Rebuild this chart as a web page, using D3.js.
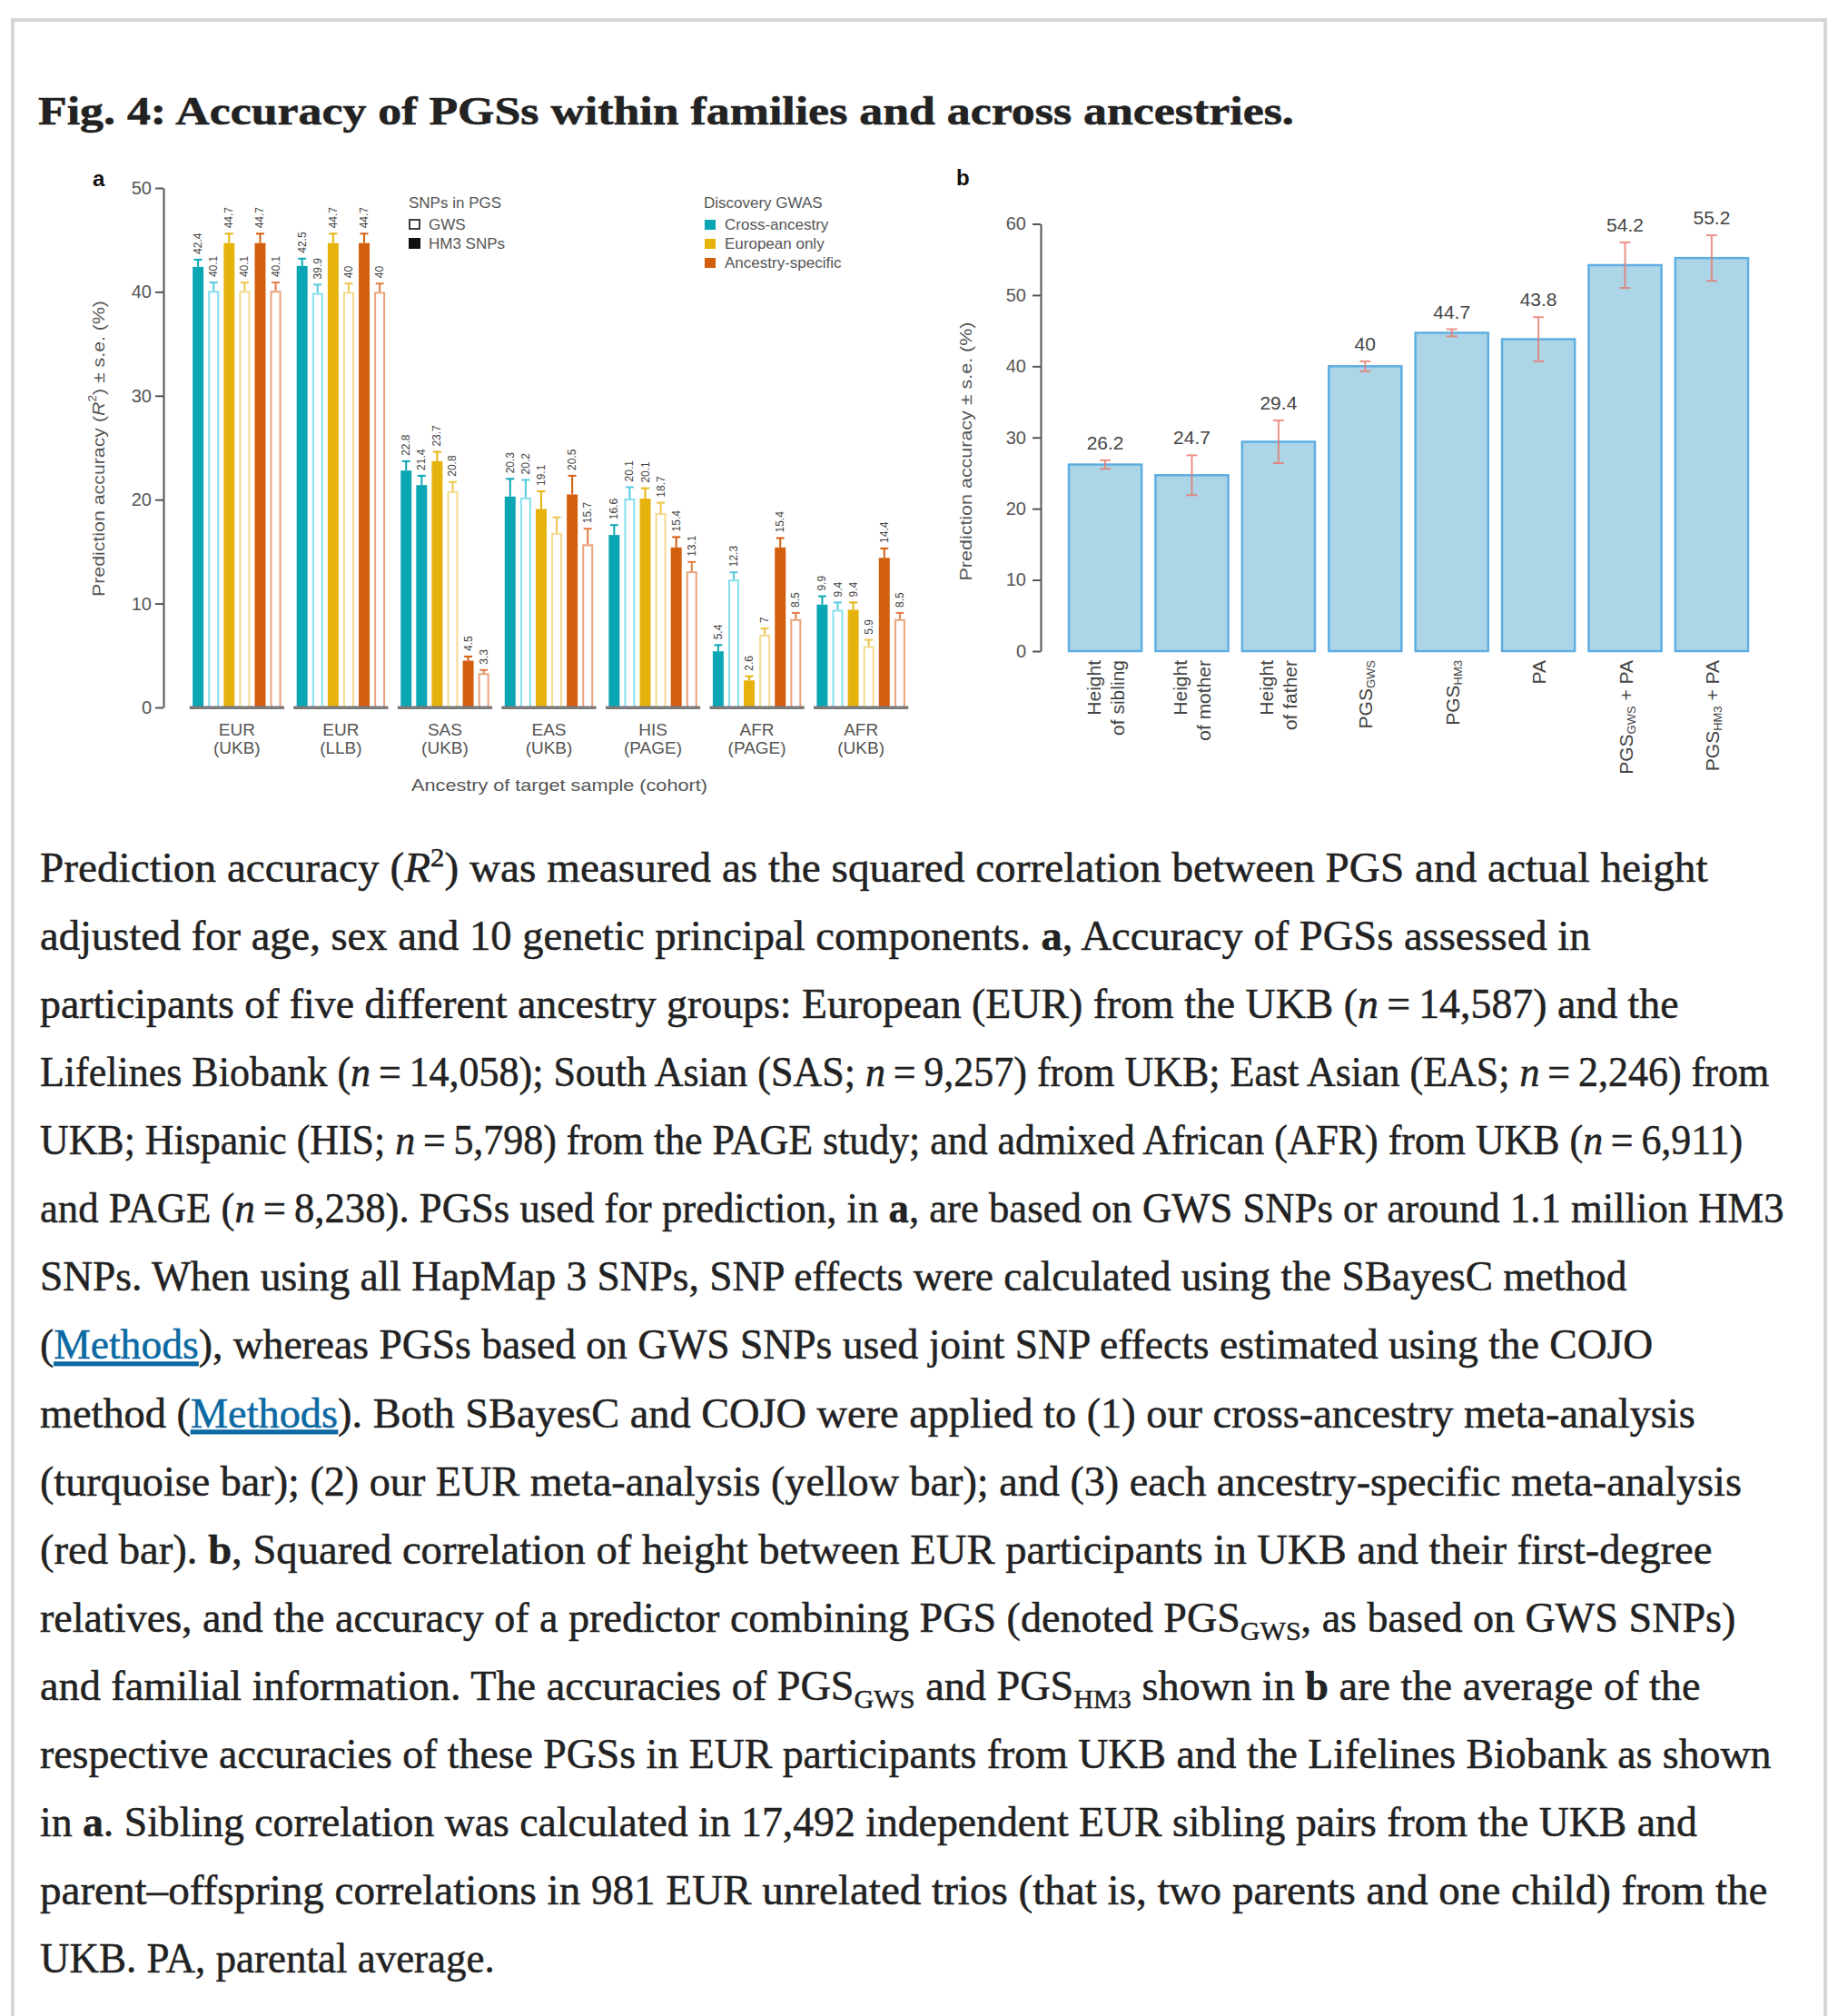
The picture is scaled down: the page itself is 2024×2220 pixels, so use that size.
<!DOCTYPE html>
<html><head><meta charset="utf-8">
<script src="https://cdn.jsdelivr.net/npm/d3@7"></script>
<style>html,body{margin:0;padding:0;background:#fff}</style>
</head><body>
<svg id="c" width="2024" height="2220" xmlns="http://www.w3.org/2000/svg"></svg>
<script>
// ---------------- DATA ----------------
const titleText = "Fig. 4: Accuracy of PGSs within families and across ancestries.";

// Panel a
const groups = ["EUR (UKB)", "EUR (LLB)", "SAS (UKB)", "EAS (UKB)", "HIS (PAGE)", "AFR (PAGE)", "AFR (UKB)"];
const seriesKeys = ["crossHM3", "crossGWS", "eurHM3", "eurGWS", "ancHM3", "ancGWS"];
const crossHM3 = [42.4, 42.5, 22.8, 20.3, 16.6, 5.4, 9.9];
const crossGWS = [40.1, 39.9, 21.4, 20.2, 20.1, 12.3, 9.4];
const eurHM3   = [44.7, 44.7, 23.7, 19.1, 20.1, 2.6, 9.4];
const eurGWS   = [40.1, 40, 20.8, 16.8, 18.7, 7, 5.9];
const ancHM3   = [44.7, 44.7, 4.5, 20.5, 15.4, 15.4, 14.4];
const ancGWS   = [40.1, 40, 3.3, 15.7, 13.1, 8.5, 8.5];
const crossHM3SE = [0.7, 0.7, 0.9, 1.7, 0.95, 0.6, 0.8];
const crossGWSSE = [0.8, 0.8, 0.9, 1.7, 1.1, 0.7, 0.7];
const eurHM3SE   = [0.9, 0.9, 0.9, 1.7, 1.0, 0.4, 0.7];
const eurGWSSE   = [0.8, 0.8, 0.9, 1.5, 1.0, 0.6, 0.6];
const ancHM3SE   = [0.9, 0.9, 0.4, 1.8, 1.0, 0.9, 0.9];
const ancGWSSE   = [0.8, 0.8, 0.3, 1.5, 0.9, 0.6, 0.6];
const yTicksA = [0, 10, 20, 30, 40, 50];
const snpLegend = ["GWS", "HM3 SNPs"];
const discoveryLegend = ["Cross-ancestry", "European only", "Ancestry-specific"];

// Panel b
const famLabels = [["Height", "of sibling"], ["Height", "of mother"], ["Height", "of father"],
  ["PGS_GWS"], ["PGS_HM3"], ["PA"], ["PGS_GWS + PA"], ["PGS_HM3 + PA"]];
const famValues = [26.2, 24.7, 29.4, 40, 44.7, 43.8, 54.2, 55.2];
const famSE = [0.6, 2.8, 3.0, 0.7, 0.5, 3.1, 3.2, 3.2];
const yTicksB = [0, 10, 20, 30, 40, 50, 60];

// Caption (segments: [text, style])
const EQ = "\u2009=\u2009";
const caption = [
 [["Prediction accuracy ("],["R","i"],["2","sup"],[") was measured as the squared correlation between PGS and actual height"]],
 [["adjusted for age, sex and 10 genetic principal components. "],["a","b"],[", Accuracy of PGSs assessed in"]],
 [["participants of five different ancestry groups: European (EUR) from the UKB ("],["n","i"],[EQ+"14,587) and the"]],
 [["Lifelines Biobank ("],["n","i"],[EQ+"14,058); South Asian (SAS; "],["n","i"],[EQ+"9,257) from UKB; East Asian (EAS; "],["n","i"],[EQ+"2,246) from"]],
 [["UKB; Hispanic (HIS; "],["n","i"],[EQ+"5,798) from the PAGE study; and admixed African (AFR) from UKB ("],["n","i"],[EQ+"6,911)"]],
 [["and PAGE ("],["n","i"],[EQ+"8,238). PGSs used for prediction, in "],["a","b"],[", are based on GWS SNPs or around 1.1 million HM3"]],
 [["SNPs. When using all HapMap 3 SNPs, SNP effects were calculated using the SBayesC method"]],
 [["("],["Methods","link"],["), whereas PGSs based on GWS SNPs used joint SNP effects estimated using the COJO"]],
 [["method ("],["Methods","link"],["). Both SBayesC and COJO were applied to (1) our cross-ancestry meta-analysis"]],
 [["(turquoise bar); (2) our EUR meta-analysis (yellow bar); and (3) each ancestry-specific meta-analysis"]],
 [["(red bar). "],["b","b"],[", Squared correlation of height between EUR participants in UKB and their first-degree"]],
 [["relatives, and the accuracy of a predictor combining PGS (denoted PGS"],["GWS","sub"],[", as based on GWS SNPs)"]],
 [["and familial information. The accuracies of PGS"],["GWS","sub"],[" and PGS"],["HM3","sub"],[" shown in "],["b","b"],[" are the average of the"]],
 [["respective accuracies of these PGSs in EUR participants from UKB and the Lifelines Biobank as shown"]],
 [["in "],["a","b"],[". Sibling correlation was calculated in 17,492 independent EUR sibling pairs from the UKB and"]],
 [["parent\u2013offspring correlations in 981 EUR unrelated trios (that is, two parents and one child) from the"]],
 [["UKB. PA, parental average."]]
];

// ---------------- STYLE / LAYOUT ----------------
const values = {crossHM3, crossGWS, eurHM3, eurGWS, ancHM3, ancGWS};
const ses = {crossHM3: crossHM3SE, crossGWS: crossGWSSE, eurHM3: eurHM3SE, eurGWS: eurGWSSE, ancHM3: ancHM3SE, ancGWS: ancGWSSE};
const C = {teal: "#0aa6b4", tealL: "#86e0ee", tealE: "#55cadd",
           yel: "#e6b30c", yelL: "#f3da8e", yelE: "#ecc54a",
           ora: "#d35e0d", oraL: "#eba27a", oraE: "#e07d45"};
const style = {
  crossHM3: {open: false, col: C.teal, err: C.teal},
  crossGWS: {open: true,  col: C.tealL, err: C.tealE},
  eurHM3:   {open: false, col: C.yel, err: C.yel},
  eurGWS:   {open: true,  col: C.yelL, err: C.yelE},
  ancHM3:   {open: false, col: C.ora, err: C.ora},
  ancGWS:   {open: true,  col: C.oraL, err: C.oraE}
};
// bars drawn solid in the reference despite being GWS, and bars without a value label
const drawnSolid = new Set(["SAS (UKB)|crossGWS"]);
const noLabel = new Set(["EAS (UKB)|eurGWS"]);

const SANS = '"Liberation Sans", Arial, Helvetica, sans-serif';
const SERIF = '"Liberation Serif", "Times New Roman", serif';
const svg = d3.select("#c");

function fit(node, x, y, rot, target) {
  const w = node.getBBox().width;
  const k = target ? target / w : 1;
  node.setAttribute("transform", `translate(${x},${y}) rotate(${rot}) scale(${k},1)`);
}

// frame
svg.append("rect").attr("x", 14).attr("y", 22).attr("width", 1996).attr("height", 2400)
  .attr("fill", "none").attr("stroke", "#d6d6d6").attr("stroke-width", 4);

// title
const t = svg.append("text").attr("font-family", SERIF).attr("font-weight", "bold")
  .attr("font-size", 44).attr("fill", "#222").attr("stroke", "#222").attr("stroke-width", 0.6).text(titleText);
fit(t.node(), 42, 137, 0, 1383);

// ---------------- PANEL A ----------------
const gA = svg.append("g").attr("font-family", SANS);
const yA = d3.scaleLinear().domain([0, 50]).range([779, 207]);
const xA = d3.scaleBand().domain(groups).range([203, 1006]).paddingInner(0.09).paddingOuter(0.05);
const xIn = d3.scaleBand().domain(seriesKeys).range([0, xA.bandwidth()]).paddingInner(0.3).paddingOuter(0.2);

gA.append("text").attr("x", 102).attr("y", 205).attr("font-size", 24).attr("font-weight", "bold")
  .attr("fill", "#111").text("a");

const axA = gA.append("g").attr("transform", "translate(180,0)")
  .call(d3.axisLeft(yA).tickValues(yTicksA).tickSize(9).tickSizeOuter(0).tickPadding(4));
axA.select(".domain").attr("stroke", "#555").attr("stroke-width", 2);
axA.selectAll(".tick line").attr("stroke", "#555").attr("stroke-width", 2);
axA.selectAll(".tick text").attr("font-size", 20).attr("fill", "#555").attr("font-family", SANS);

const barsA = groups.flatMap((g, i) => seriesKeys.map(k => ({g, k, v: values[k][i], se: ses[k][i]})));
const bw = xIn.bandwidth();
barsA.forEach(d => {
  const st = style[d.k];
  const x0 = xA(d.g) + xIn(d.k);
  const cx = x0 + bw / 2;
  const open = st.open && !drawnSolid.has(d.g + "|" + d.k);
  const col = open ? st.col : (st.open ? C.teal : st.col);
  const errCol = open ? st.err : (st.open ? C.teal : st.err);
  if (open) {
    gA.append("rect").attr("x", x0 + 1).attr("y", yA(d.v) + 1).attr("width", bw - 2)
      .attr("height", yA(0) - yA(d.v) - 1).attr("fill", "#fff").attr("stroke", col).attr("stroke-width", 2);
  } else {
    gA.append("rect").attr("x", x0).attr("y", yA(d.v)).attr("width", bw)
      .attr("height", yA(0) - yA(d.v)).attr("fill", col);
  }
  const yt = yA(d.v + d.se);
  gA.append("line").attr("x1", cx).attr("x2", cx).attr("y1", yA(d.v)).attr("y2", yt)
    .attr("stroke", errCol).attr("stroke-width", 2);
  gA.append("line").attr("x1", cx - 4.5).attr("x2", cx + 4.5).attr("y1", yt).attr("y2", yt)
    .attr("stroke", errCol).attr("stroke-width", 2);
  if (!noLabel.has(d.g + "|" + d.k)) {
    gA.append("text").attr("transform", `translate(${cx},${yt - 6}) rotate(-90)`)
      .attr("dominant-baseline", "central").attr("font-size", 12).attr("fill", "#444")
      .text(String(d.v));
  }
});
// group baselines
gA.selectAll("rect.base").data(groups).join("rect").attr("class", "base")
  .attr("x", d => xA(d)).attr("y", yA(0) - 1.5).attr("width", xA.bandwidth()).attr("height", 3.5)
  .attr("fill", "#7a7a7a");
// group labels
groups.forEach(g => {
  const parts = g.split(" ");
  const cx = xA(g) + xA.bandwidth() / 2;
  parts.forEach((p, j) => {
    gA.append("text").attr("x", cx).attr("y", 810 + j * 20).attr("text-anchor", "middle")
      .attr("font-size", 19).attr("fill", "#555").text(p);
  });
});
// axis titles
const xtA = gA.append("text").attr("text-anchor", "middle").attr("font-size", 18).attr("fill", "#555")
  .text("Ancestry of target sample (cohort)");
fit(xtA.node(), 616, 871, 0, 326);
const ytA = gA.append("text").attr("text-anchor", "middle").attr("dominant-baseline", "central")
  .attr("font-size", 19).attr("fill", "#555");
ytA.append("tspan").text("Prediction accuracy (");
ytA.append("tspan").attr("font-style", "italic").text("R");
ytA.append("tspan").attr("font-size", 12).attr("dy", -7).text("2");
ytA.append("tspan").attr("dy", 7).text(") \u00b1 s.e. (%)");
fit(ytA.node(), 108, 494, -90, 326);

// legends
gA.append("text").attr("x", 450).attr("y", 229).attr("font-size", 17).attr("fill", "#555").text("SNPs in PGS");
snpLegend.forEach((s, j) => {
  const yy = 241 + j * 21;
  if (j === 0) gA.append("rect").attr("x", 451).attr("y", yy + 1).attr("width", 11).attr("height", 10)
      .attr("fill", "#fff").attr("stroke", "#111").attr("stroke-width", 1.6);
  else gA.append("rect").attr("x", 450).attr("y", yy).attr("width", 13).attr("height", 12).attr("fill", "#111");
  gA.append("text").attr("x", 472).attr("y", yy + 12).attr("font-size", 17).attr("fill", "#555").text(s);
});
gA.append("text").attr("x", 775).attr("y", 229).attr("font-size", 17).attr("fill", "#555").text("Discovery GWAS");
const discCols = [C.teal, C.yel, C.ora];
discoveryLegend.forEach((s, j) => {
  const yy = 242 + j * 21;
  gA.append("rect").attr("x", 776).attr("y", yy).attr("width", 12).attr("height", 11).attr("fill", discCols[j]);
  gA.append("text").attr("x", 798).attr("y", yy + 11).attr("font-size", 17).attr("fill", "#555").text(s);
});

// ---------------- PANEL B ----------------
const gB = svg.append("g").attr("font-family", SANS);
const yB = d3.scaleLinear().domain([0, 60]).range([717, 246.5]);
const famKeys = famLabels.map(l => l.join(" "));
const xB = d3.scaleBand().domain(famKeys).range([1150, 1952]).paddingInner(0.16).paddingOuter(0.283);

gB.append("text").attr("x", 1053).attr("y", 204).attr("font-size", 24).attr("font-weight", "bold")
  .attr("fill", "#111").text("b");

const axB = gB.append("g").attr("transform", "translate(1146,0)")
  .call(d3.axisLeft(yB).tickValues(yTicksB).tickSize(9).tickSizeOuter(0).tickPadding(7));
axB.select(".domain").attr("stroke", "#555").attr("stroke-width", 2);
axB.selectAll(".tick line").attr("stroke", "#555").attr("stroke-width", 2);
axB.selectAll(".tick text").attr("font-size", 20).attr("fill", "#555").attr("font-family", SANS);

const ytB = gB.append("text").attr("text-anchor", "middle").attr("dominant-baseline", "central")
  .attr("font-size", 19).attr("fill", "#555").text("Prediction accuracy \u00b1 s.e. (%)");
fit(ytB.node(), 1063, 497, -90, 285);

famKeys.forEach((k, i) => {
  const x0 = xB(k), w = xB.bandwidth(), cx = x0 + w / 2;
  const v = famValues[i], se = famSE[i];
  gB.append("rect").attr("x", x0).attr("y", yB(v)).attr("width", w).attr("height", yB(0) - yB(v))
    .attr("fill", "#acd6e7").attr("stroke", "#5eaee2").attr("stroke-width", 2.5);
  const y1 = yB(v + se), y2 = yB(v - se);
  const eg = gB.append("g").attr("stroke", "#e8766b").attr("stroke-width", 2).attr("opacity", 0.8);
  eg.append("line").attr("x1", cx).attr("x2", cx).attr("y1", y1).attr("y2", y2);
  eg.append("line").attr("x1", cx - 6).attr("x2", cx + 6).attr("y1", y1).attr("y2", y1);
  eg.append("line").attr("x1", cx - 6).attr("x2", cx + 6).attr("y1", y2).attr("y2", y2);
  gB.append("text").attr("x", cx).attr("y", y1 - 12).attr("text-anchor", "middle")
    .attr("font-size", 21).attr("fill", "#444").text(String(v));
  // x labels
  const lines = famLabels[i];
  lines.forEach((ln, j) => {
    const off = (j - (lines.length - 1) / 2) * 26;
    const tx = gB.append("text").attr("transform", `translate(${cx + off},727) rotate(-90)`)
      .attr("text-anchor", "end").attr("dominant-baseline", "central")
      .attr("font-size", 21).attr("fill", "#444");
    const m = ln.match(/^(.*?)_(\w+)(.*)$/);
    if (m) {
      tx.append("tspan").text(m[1]);
      tx.append("tspan").attr("font-size", 13).attr("dy", 6).text(m[2]);
      if (m[3]) tx.append("tspan").attr("dy", -6).text(m[3]);
    } else tx.text(ln);
  });
});

// ---------------- CAPTION ----------------
const lineEnds = [1881,1752,1849,1949,1920,1965,1792,1821,1867,1918,1886,1912,1873,1951,1869,1947,545];
const gC = svg.append("g").attr("font-family", SERIF).attr("font-size", 46).attr("fill", "#222")
  .attr("stroke", "#222").attr("stroke-width", 0.5);
caption.forEach((segs, i) => {
  const tx = gC.append("text").attr("x", 0).attr("y", 0);
  let shift = 0;
  segs.forEach(([txt, st]) => {
    const sp = tx.append("tspan").text(txt);
    let target = 0;
    if (st === "sup") target = -17;
    else if (st === "sub") target = 9;
    if (target !== shift) { sp.attr("dy", target - shift); shift = target; }
    if (st === "sup" || st === "sub") sp.attr("font-size", 30);
    if (st === "i") sp.attr("font-style", "italic");
    if (st === "b") sp.attr("font-weight", "bold");
    if (st === "link") sp.attr("fill", "#0b69a3").attr("stroke", "#0b69a3").attr("text-decoration", "underline");
  });
  fit(tx.node(), 44, 971 + i * 75.07, 0, lineEnds[i] - 44);
});
</script>
</body></html>
